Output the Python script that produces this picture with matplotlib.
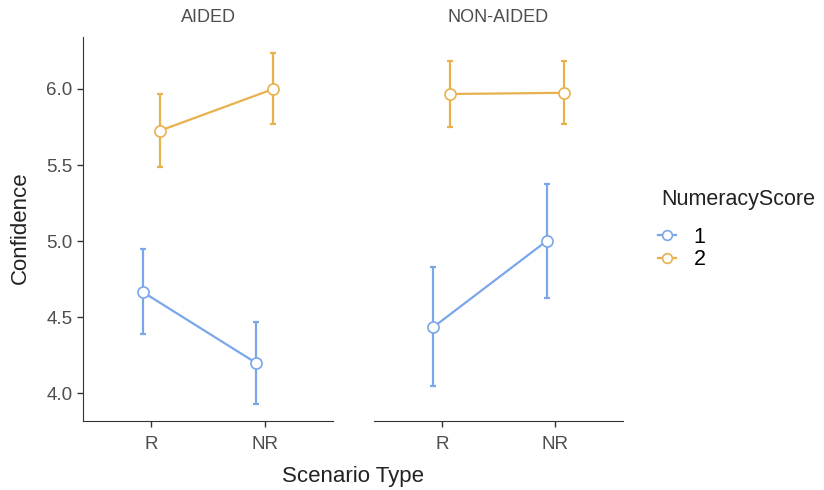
import numpy as np
import matplotlib
matplotlib.use("Agg")
import matplotlib.pyplot as plt
from matplotlib.lines import Line2D

plt.rcParams["font.family"] = ["Liberation Sans", "DejaVu Sans"]

panels = ["AIDED", "NON-AIDED"]
scenarios = ["R", "NR"]
groups = ["1", "2"]
colors = {"1": "#7aa7ea", "2": "#e9b14e"}

# mean, lower, upper per panel, group, scenario (R, NR)
means = {
    ("AIDED", "1"): [4.665, 4.197],
    ("AIDED", "2"): [5.725, 6.0],
    ("NON-AIDED", "1"): [4.434, 5.0],
    ("NON-AIDED", "2"): [5.967, 5.975],
}
lower = {
    ("AIDED", "1"): [4.388, 3.928],
    ("AIDED", "2"): [5.487, 5.77],
    ("NON-AIDED", "1"): [4.046, 4.625],
    ("NON-AIDED", "2"): [5.75, 5.77],
}
upper = {
    ("AIDED", "1"): [4.947, 4.467],
    ("AIDED", "2"): [5.967, 6.237],
    ("NON-AIDED", "1"): [4.829, 5.375],
    ("NON-AIDED", "2"): [6.184, 6.184],
}

W, H = 824, 490
fig = plt.figure(figsize=(W / 100, H / 100), dpi=100)
panel_px = [(83, 333), (374, 623)]
top_px, bot_px = 37, 421
dodge = {"1": -0.075, "2": 0.075}
axis_col = "#333333"
text_col = "#4d4d4d"

axes = []
for i, (panel, (x0, x1)) in enumerate(zip(panels, panel_px)):
    ax = fig.add_axes([x0 / W, 1 - bot_px / H, (x1 - x0) / W, (bot_px - top_px) / H])
    axes.append(ax)
    xs = np.arange(1, len(scenarios) + 1)
    for g in groups:
        m = np.array(means[(panel, g)])
        lo = np.array(lower[(panel, g)])
        hi = np.array(upper[(panel, g)])
        xp = xs + dodge[g]
        ax.errorbar(xp, m, yerr=[m - lo, hi - m], fmt="none", ecolor=colors[g],
                    elinewidth=1.6, capsize=2.5, capthick=1.6, zorder=2)
        ax.plot(xp, m, color=colors[g], lw=1.6, zorder=3)
        ax.plot(xp, m, "o", ms=8, mfc="white", mec=colors[g], mew=1.2, zorder=4)
    ax.set_xlim(0.4, 2.6)
    ax.set_ylim(3.816, 6.342)
    ax.set_xticks(xs)
    ax.set_xticklabels(scenarios)
    ax.set_yticks([4.0, 4.5, 5.0, 5.5, 6.0])
    ax.set_yticklabels(["4.0", "4.5", "5.0", "5.5", "6.0"])
    for s in ["top", "right"]:
        ax.spines[s].set_visible(False)
    ax.spines["bottom"].set_color(axis_col)
    ax.spines["left"].set_color(axis_col)
    ax.tick_params(colors=axis_col, labelcolor=text_col, labelsize=13.5, length=4, width=1)
    ax.tick_params(axis="x", pad=7)
    ax.set_title(panel, fontsize=13, color=text_col, pad=11)
    if i == 1:
        ax.spines["left"].set_visible(False)
        ax.tick_params(axis="y", left=False, labelleft=False)

fig.text(20 / W, 1 - 228 / H, "Confidence", fontsize=16, color="#222222",
         ha="center", va="center", rotation=90)
fig.text(353 / W, 1 - 476 / H, "Scenario Type", fontsize=16, color="#222222",
         ha="center", va="center")

# legend: title drawn separately so the gap to the keys matches
fig.text(661 / W, 1 - 200 / H, "NumeracyScore", fontsize=15.5, color="#222222",
         ha="left", va="center")
handles = [Line2D([], [], color=colors[g], lw=1.6, marker="o", ms=7, mfc="white",
                  mec=colors[g], mew=1.2) for g in groups]
leg = fig.legend(handles, groups, loc="upper left",
                 bbox_to_anchor=(658 / W, 1 - 227 / H), frameon=False, fontsize=15.5,
                 handlelength=0.85, handletextpad=0.8,
                 labelspacing=0.05, borderaxespad=0, borderpad=0)

fig.savefig("out.png", dpi=100)
